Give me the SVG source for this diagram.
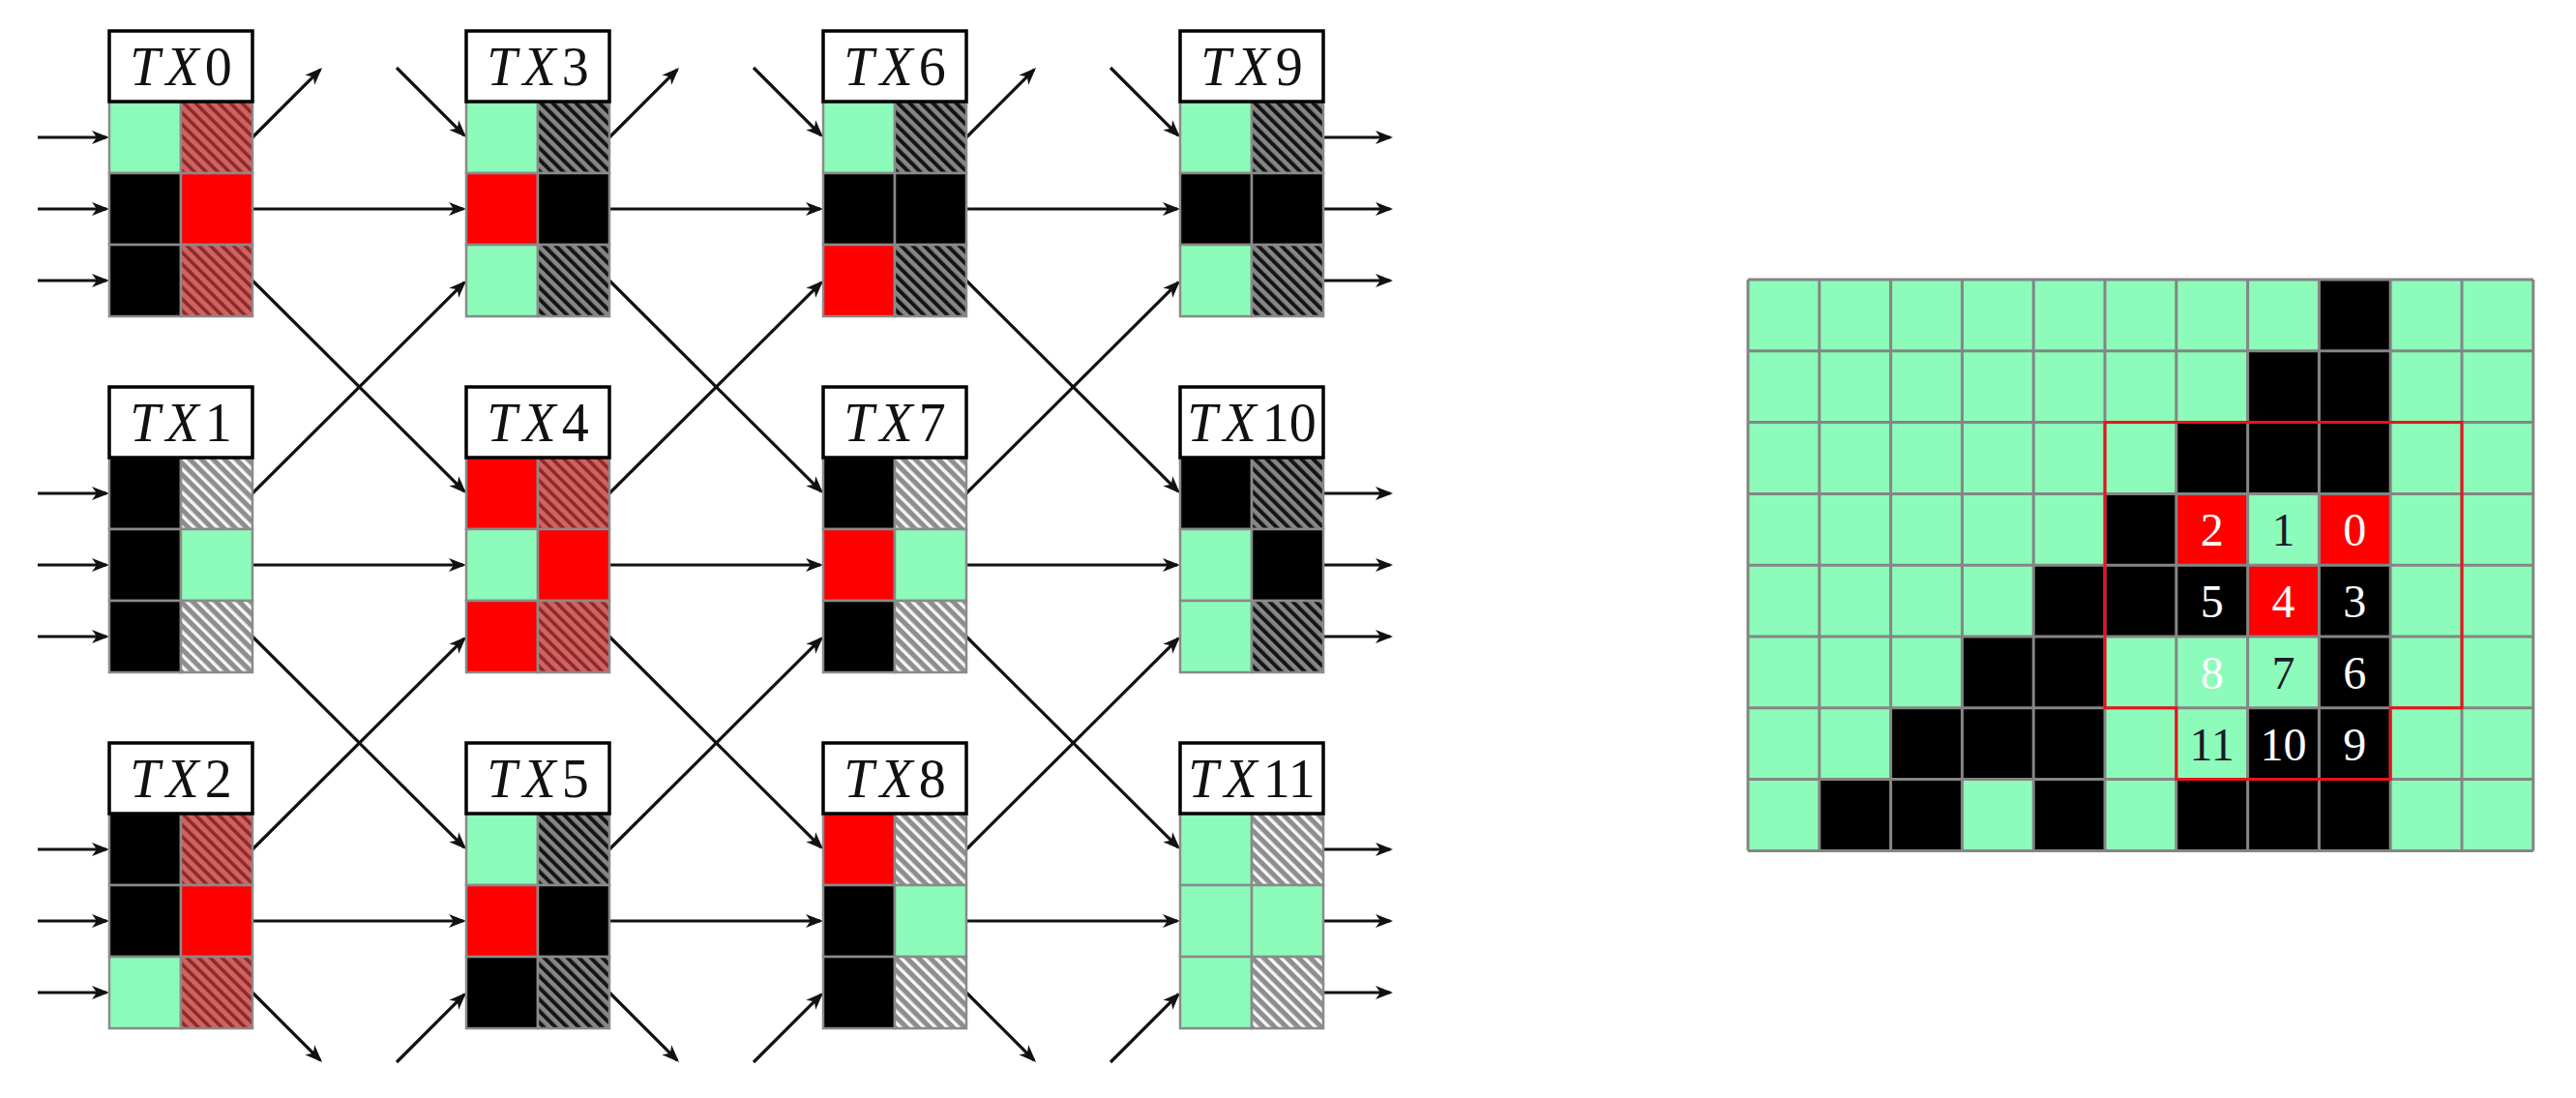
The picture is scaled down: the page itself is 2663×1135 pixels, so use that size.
<svg xmlns="http://www.w3.org/2000/svg" width="2663" height="1135" viewBox="0 0 2663 1135">
<defs>
<pattern id="pR" width="8.5" height="8.5" patternUnits="userSpaceOnUse" patternTransform="rotate(-45)"><rect width="8.5" height="8.5" fill="#d06262"/><rect width="3.6" height="8.5" fill="#8c2a2a"/></pattern>
<pattern id="pB" width="8.5" height="8.5" patternUnits="userSpaceOnUse" patternTransform="rotate(-45)"><rect width="8.5" height="8.5" fill="#868686"/><rect width="4" height="8.5" fill="#141414"/></pattern>
<pattern id="pW" width="8.5" height="8.5" patternUnits="userSpaceOnUse" patternTransform="rotate(-45)"><rect width="8.5" height="8.5" fill="#8e8e8e"/><rect width="3.4" height="8.5" fill="#f6f6f6"/></pattern>
<marker id="ah" markerUnits="userSpaceOnUse" markerWidth="20" markerHeight="16" refX="15" refY="7.5" orient="auto"><path d="M0,0.5 L18,7.5 L0,14.5 L5,7.5 z" fill="#111"/></marker>
</defs>
<style>
.c{stroke:#8a8a8a;stroke-width:2.5}
.G{fill:#8dfbba}.B{fill:#000}.R{fill:#ff0000}
.HR{fill:url(#pR)}.HB{fill:url(#pB)}.HW{fill:url(#pW)}
.lb{fill:#fff;stroke:#000;stroke-width:3.5}
.tl{font-family:"Liberation Serif","DejaVu Serif",serif;font-size:56px;text-anchor:middle;fill:#111}
.tl tspan{font-style:italic;letter-spacing:6px}
#connectors line{stroke:#111;stroke-width:3.2;marker-end:url(#ah)}
.gb{fill:#000}.gr{fill:#ff0000}
.num{font-family:"Liberation Serif","DejaVu Serif",serif;font-size:48px;text-anchor:middle}
.w{fill:#fff}.d{fill:#1a1a2a}
</style>
<rect width="2663" height="1135" fill="#fff"/>

<g id="connectors">
<line x1="39" y1="142" x2="110" y2="142"/><line x1="39" y1="216" x2="110" y2="216"/><line x1="39" y1="290" x2="110" y2="290"/>
<line x1="39" y1="510" x2="110" y2="510"/><line x1="39" y1="584" x2="110" y2="584"/><line x1="39" y1="658" x2="110" y2="658"/>
<line x1="39" y1="878" x2="110" y2="878"/><line x1="39" y1="952" x2="110" y2="952"/><line x1="39" y1="1026" x2="110" y2="1026"/>
<line x1="1368" y1="142" x2="1437" y2="142"/><line x1="1368" y1="216" x2="1437" y2="216"/><line x1="1368" y1="290" x2="1437" y2="290"/>
<line x1="1368" y1="510" x2="1437" y2="510"/><line x1="1368" y1="584" x2="1437" y2="584"/><line x1="1368" y1="658" x2="1437" y2="658"/>
<line x1="1368" y1="878" x2="1437" y2="878"/><line x1="1368" y1="952" x2="1437" y2="952"/><line x1="1368" y1="1026" x2="1437" y2="1026"/>
<line x1="261" y1="216" x2="479" y2="216"/><line x1="261" y1="584" x2="479" y2="584"/><line x1="261" y1="952" x2="479" y2="952"/>
<line x1="630" y1="216" x2="848" y2="216"/><line x1="630" y1="584" x2="848" y2="584"/><line x1="630" y1="952" x2="848" y2="952"/>
<line x1="999" y1="216" x2="1217" y2="216"/><line x1="999" y1="584" x2="1217" y2="584"/><line x1="999" y1="952" x2="1217" y2="952"/>
<line x1="261" y1="510" x2="479.9" y2="292.1"/><line x1="261" y1="878" x2="479.9" y2="660.1"/>
<line x1="261" y1="290" x2="479.9" y2="507.9"/><line x1="261" y1="658" x2="479.9" y2="875.9"/>
<line x1="630" y1="510" x2="848.9" y2="292.1"/><line x1="630" y1="878" x2="848.9" y2="660.1"/>
<line x1="630" y1="290" x2="848.9" y2="507.9"/><line x1="630" y1="658" x2="848.9" y2="875.9"/>
<line x1="999" y1="510" x2="1217.9" y2="292.1"/><line x1="999" y1="878" x2="1217.9" y2="660.1"/>
<line x1="999" y1="290" x2="1217.9" y2="507.9"/><line x1="999" y1="658" x2="1217.9" y2="875.9"/>
<line x1="261" y1="142" x2="330.9" y2="72.1"/><line x1="410" y1="70" x2="479.9" y2="139.9"/>
<line x1="630" y1="142" x2="699.9" y2="72.1"/><line x1="779" y1="70" x2="848.9" y2="139.9"/>
<line x1="999" y1="142" x2="1068.9" y2="72.1"/><line x1="1148" y1="70" x2="1217.9" y2="139.9"/>
<line x1="261" y1="1026" x2="330.9" y2="1095.9"/><line x1="410" y1="1098" x2="479.9" y2="1028.1"/>
<line x1="630" y1="1026" x2="699.9" y2="1095.9"/><line x1="779" y1="1098" x2="848.9" y2="1028.1"/>
<line x1="999" y1="1026" x2="1068.9" y2="1095.9"/><line x1="1148" y1="1098" x2="1217.9" y2="1028.1"/>
</g>

<g id="TX0" transform="translate(113,32)">
<rect class="c G" x="0" y="73" width="74" height="74"/><rect class="c HR" x="74" y="73" width="74" height="74"/>
<rect class="c B" x="0" y="147" width="74" height="74"/><rect class="c R" x="74" y="147" width="74" height="74"/>
<rect class="c B" x="0" y="221" width="74" height="74"/><rect class="c HR" x="74" y="221" width="74" height="74"/>
<rect class="lb" x="0" y="0" width="148" height="73"/><text class="tl" x="74" y="56"><tspan>TX</tspan>0</text>
</g>
<g id="TX1" transform="translate(113,400)">
<rect class="c B" x="0" y="73" width="74" height="74"/><rect class="c HW" x="74" y="73" width="74" height="74"/>
<rect class="c B" x="0" y="147" width="74" height="74"/><rect class="c G" x="74" y="147" width="74" height="74"/>
<rect class="c B" x="0" y="221" width="74" height="74"/><rect class="c HW" x="74" y="221" width="74" height="74"/>
<rect class="lb" x="0" y="0" width="148" height="73"/><text class="tl" x="74" y="56"><tspan>TX</tspan>1</text>
</g>
<g id="TX2" transform="translate(113,768)">
<rect class="c B" x="0" y="73" width="74" height="74"/><rect class="c HR" x="74" y="73" width="74" height="74"/>
<rect class="c B" x="0" y="147" width="74" height="74"/><rect class="c R" x="74" y="147" width="74" height="74"/>
<rect class="c G" x="0" y="221" width="74" height="74"/><rect class="c HR" x="74" y="221" width="74" height="74"/>
<rect class="lb" x="0" y="0" width="148" height="73"/><text class="tl" x="74" y="56"><tspan>TX</tspan>2</text>
</g>
<g id="TX3" transform="translate(482,32)">
<rect class="c G" x="0" y="73" width="74" height="74"/><rect class="c HB" x="74" y="73" width="74" height="74"/>
<rect class="c R" x="0" y="147" width="74" height="74"/><rect class="c B" x="74" y="147" width="74" height="74"/>
<rect class="c G" x="0" y="221" width="74" height="74"/><rect class="c HB" x="74" y="221" width="74" height="74"/>
<rect class="lb" x="0" y="0" width="148" height="73"/><text class="tl" x="74" y="56"><tspan>TX</tspan>3</text>
</g>
<g id="TX4" transform="translate(482,400)">
<rect class="c R" x="0" y="73" width="74" height="74"/><rect class="c HR" x="74" y="73" width="74" height="74"/>
<rect class="c G" x="0" y="147" width="74" height="74"/><rect class="c R" x="74" y="147" width="74" height="74"/>
<rect class="c R" x="0" y="221" width="74" height="74"/><rect class="c HR" x="74" y="221" width="74" height="74"/>
<rect class="lb" x="0" y="0" width="148" height="73"/><text class="tl" x="74" y="56"><tspan>TX</tspan>4</text>
</g>
<g id="TX5" transform="translate(482,768)">
<rect class="c G" x="0" y="73" width="74" height="74"/><rect class="c HB" x="74" y="73" width="74" height="74"/>
<rect class="c R" x="0" y="147" width="74" height="74"/><rect class="c B" x="74" y="147" width="74" height="74"/>
<rect class="c B" x="0" y="221" width="74" height="74"/><rect class="c HB" x="74" y="221" width="74" height="74"/>
<rect class="lb" x="0" y="0" width="148" height="73"/><text class="tl" x="74" y="56"><tspan>TX</tspan>5</text>
</g>
<g id="TX6" transform="translate(851,32)">
<rect class="c G" x="0" y="73" width="74" height="74"/><rect class="c HB" x="74" y="73" width="74" height="74"/>
<rect class="c B" x="0" y="147" width="74" height="74"/><rect class="c B" x="74" y="147" width="74" height="74"/>
<rect class="c R" x="0" y="221" width="74" height="74"/><rect class="c HB" x="74" y="221" width="74" height="74"/>
<rect class="lb" x="0" y="0" width="148" height="73"/><text class="tl" x="74" y="56"><tspan>TX</tspan>6</text>
</g>
<g id="TX7" transform="translate(851,400)">
<rect class="c B" x="0" y="73" width="74" height="74"/><rect class="c HW" x="74" y="73" width="74" height="74"/>
<rect class="c R" x="0" y="147" width="74" height="74"/><rect class="c G" x="74" y="147" width="74" height="74"/>
<rect class="c B" x="0" y="221" width="74" height="74"/><rect class="c HW" x="74" y="221" width="74" height="74"/>
<rect class="lb" x="0" y="0" width="148" height="73"/><text class="tl" x="74" y="56"><tspan>TX</tspan>7</text>
</g>
<g id="TX8" transform="translate(851,768)">
<rect class="c R" x="0" y="73" width="74" height="74"/><rect class="c HW" x="74" y="73" width="74" height="74"/>
<rect class="c B" x="0" y="147" width="74" height="74"/><rect class="c G" x="74" y="147" width="74" height="74"/>
<rect class="c B" x="0" y="221" width="74" height="74"/><rect class="c HW" x="74" y="221" width="74" height="74"/>
<rect class="lb" x="0" y="0" width="148" height="73"/><text class="tl" x="74" y="56"><tspan>TX</tspan>8</text>
</g>
<g id="TX9" transform="translate(1220,32)">
<rect class="c G" x="0" y="73" width="74" height="74"/><rect class="c HB" x="74" y="73" width="74" height="74"/>
<rect class="c B" x="0" y="147" width="74" height="74"/><rect class="c B" x="74" y="147" width="74" height="74"/>
<rect class="c G" x="0" y="221" width="74" height="74"/><rect class="c HB" x="74" y="221" width="74" height="74"/>
<rect class="lb" x="0" y="0" width="148" height="73"/><text class="tl" x="74" y="56"><tspan>TX</tspan>9</text>
</g>
<g id="TX10" transform="translate(1220,400)">
<rect class="c B" x="0" y="73" width="74" height="74"/><rect class="c HB" x="74" y="73" width="74" height="74"/>
<rect class="c G" x="0" y="147" width="74" height="74"/><rect class="c B" x="74" y="147" width="74" height="74"/>
<rect class="c G" x="0" y="221" width="74" height="74"/><rect class="c HB" x="74" y="221" width="74" height="74"/>
<rect class="lb" x="0" y="0" width="148" height="73"/><text class="tl" x="74" y="56"><tspan>TX</tspan>10</text>
</g>
<g id="TX11" transform="translate(1220,768)">
<rect class="c G" x="0" y="73" width="74" height="74"/><rect class="c HW" x="74" y="73" width="74" height="74"/>
<rect class="c G" x="0" y="147" width="74" height="74"/><rect class="c G" x="74" y="147" width="74" height="74"/>
<rect class="c G" x="0" y="221" width="74" height="74"/><rect class="c HW" x="74" y="221" width="74" height="74"/>
<rect class="lb" x="0" y="0" width="148" height="73"/><text class="tl" x="74" y="56"><tspan>TX</tspan>11</text>
</g>

<g id="pixel-grid">
<rect x="1807" y="289" width="811.8" height="590.4" fill="#8dfbba"/>
<g class="gb">
<rect x="2397.4" y="289" width="73.8" height="73.8"/>
<rect x="2323.6" y="362.8" width="147.6" height="73.8"/>
<rect x="2249.8" y="436.6" width="221.4" height="73.8"/>
<rect x="2176" y="510.4" width="73.8" height="73.8"/>
<rect x="2102.2" y="584.2" width="221.4" height="73.8"/>
<rect x="2397.4" y="584.2" width="73.8" height="73.8"/>
<rect x="2028.4" y="658" width="147.6" height="73.8"/>
<rect x="2397.4" y="658" width="73.8" height="73.8"/>
<rect x="1954.6" y="731.8" width="221.4" height="73.8"/>
<rect x="2323.6" y="731.8" width="147.6" height="73.8"/>
<rect x="1880.8" y="805.6" width="147.6" height="73.8"/>
<rect x="2102.2" y="805.6" width="73.8" height="73.8"/>
<rect x="2249.8" y="805.6" width="221.4" height="73.8"/>
</g>
<g class="gr">
<rect x="2249.8" y="510.4" width="73.8" height="73.8"/>
<rect x="2397.4" y="510.4" width="73.8" height="73.8"/>
<rect x="2323.6" y="584.2" width="73.8" height="73.8"/>
</g>
<path fill="none" stroke="#858585" stroke-width="3" d="M1807,289V879.4M1880.8,289V879.4M1954.6,289V879.4M2028.4,289V879.4M2102.2,289V879.4M2176,289V879.4M2249.8,289V879.4M2323.6,289V879.4M2397.4,289V879.4M2471.2,289V879.4M2545,289V879.4M2618.8,289V879.4M1807,289H2618.8M1807,362.8H2618.8M1807,436.6H2618.8M1807,510.4H2618.8M1807,584.2H2618.8M1807,658H2618.8M1807,731.8H2618.8M1807,805.6H2618.8M1807,879.4H2618.8"/>
<path fill="none" stroke="#e8141a" stroke-width="3" d="M2176,436.6H2545V731.8H2471.2V805.6H2249.8V731.8H2176Z"/>
<g class="num">
<text class="w" x="2286.7" y="564">2</text><text class="d" x="2360.5" y="564">1</text><text class="w" x="2434.3" y="564">0</text>
<text class="w" x="2286.7" y="638">5</text><text class="w" x="2360.5" y="638">4</text><text class="w" x="2434.3" y="638">3</text>
<text class="w" x="2286.7" y="712">8</text><text class="d" x="2360.5" y="712">7</text><text class="w" x="2434.3" y="712">6</text>
<text class="d" x="2286.7" y="786">11</text><text class="w" x="2360.5" y="786">10</text><text class="w" x="2434.3" y="786">9</text>
</g>
</g>
</svg>
